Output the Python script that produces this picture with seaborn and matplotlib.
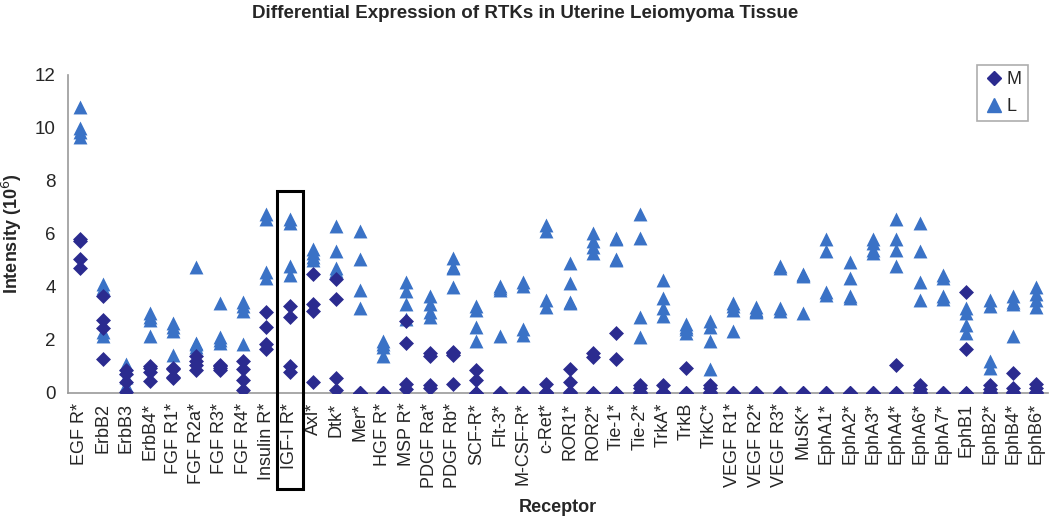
import pandas as pd
import matplotlib
matplotlib.use("Agg")
import matplotlib.pyplot as plt
from matplotlib.patches import Rectangle
from matplotlib.lines import Line2D
from matplotlib.ticker import FixedLocator
import seaborn as sns

# receptor names on the x axis
receptors = ["EGF R*", "ErbB2", "ErbB3", "ErbB4*", "FGF R1*", "FGF R2a*", "FGF R3*",
             "FGF R4*", "Insulin R*", "IGF-I R*", "Axl*", "Dtk*", "Mer*", "HGF R*",
             "MSP R*", "PDGF Ra*", "PDGF Rb*", "SCF-R*", "Flt-3*", "M-CSF-R*", "c-Ret*",
             "ROR1*", "ROR2*", "Tie-1*", "Tie-2*", "TrkA*", "TrkB", "TrkC*", "VEGF R1*",
             "VEGF R2*", "VEGF R3*", "MuSK*", "EphA1*", "EphA2*", "EphA3*", "EphA4*",
             "EphA6*", "EphA7*", "EphB1", "EphB2*", "EphB4*", "EphB6*"]

# M (myometrium) intensities, 4 spots per receptor
m_vals = [
    [5.8, 5.75, 5.05, 4.7], [3.65, 2.75, 2.45, 1.3], [0.85, 0.7, 0.4, 0.05],
    [1.0, 0.95, 0.8, 0.45], [0.95, 0.9, 0.6, 0.55], [1.4, 1.2, 1.05, 0.85],
    [1.05, 1.0, 0.95, 0.85], [1.2, 0.9, 0.5, 0.1], [3.05, 2.5, 1.85, 1.65],
    [3.3, 2.85, 1.0, 0.8], [4.5, 3.35, 3.1, 0.4], [4.3, 3.55, 0.55, 0.1],
    [0, 0, 0, 0], [0, 0, 0, 0], [2.7, 1.9, 0.35, 0.15],
    [1.5, 1.4, 0.3, 0.2], [1.55, 1.5, 1.45, 0.35], [0.85, 0.5, 0, 0],
    [0, 0, 0, 0], [0, 0, 0, 0], [0.35, 0.05, 0, 0],
    [0.9, 0.4, 0.05, 0], [1.5, 1.35, 0, 0], [2.25, 1.3, 0, 0],
    [0.3, 0.2, 0.05, 0], [0.3, 0.05, 0, 0], [0.95, 0, 0, 0],
    [0.3, 0.2, 0.05, 0], [0, 0, 0, 0], [0, 0, 0, 0],
    [0, 0, 0, 0], [0, 0, 0, 0], [0, 0, 0, 0],
    [0, 0, 0, 0], [0, 0, 0, 0], [1.05, 0, 0, 0],
    [0.3, 0.15, 0.05, 0], [0, 0, 0, 0], [3.8, 1.65, 0, 0],
    [0.3, 0.15, 0.05, 0], [0.75, 0.2, 0.05, 0], [0.35, 0.2, 0.05, 0],
]

# L (leiomyoma) intensities
l_vals = [
    [10.8, 10.0, 9.85, 9.65], [4.1, 3.95, 2.3, 2.15], [1.1, 0.95, 0.6, 0.3],
    [3.0, 2.85, 2.75, 2.15], [2.65, 2.5, 2.35, 1.45], [4.75, 1.9, 1.85, 1.75],
    [3.4, 2.1, 2.0, 1.9], [3.45, 3.3, 3.1, 1.85], [6.75, 6.55, 4.55, 4.35],
    [6.55, 6.4, 4.8, 4.45], [5.45, 5.3, 5.15, 5.0], [6.3, 5.35, 4.7, 4.6],
    [6.1, 5.05, 3.9, 3.2], [1.95, 1.85, 1.75, 1.4], [4.2, 3.85, 3.35, 2.8],
    [3.65, 3.35, 3.05, 2.85], [5.1, 4.75, 4.7, 4.0], [3.3, 3.15, 2.5, 1.95],
    [4.05, 3.95, 3.9, 2.15], [4.2, 4.05, 2.4, 2.2], [6.35, 6.1, 3.5, 3.25],
    [4.9, 4.15, 3.45, 3.4], [6.05, 5.75, 5.5, 5.3], [5.85, 5.8, 5.05, 5.0],
    [6.75, 5.85, 2.85, 2.1], [4.25, 3.6, 3.2, 2.9], [2.6, 2.5, 2.4, 2.25],
    [2.7, 2.5, 1.95, 0.9], [3.4, 3.3, 3.15, 2.35], [3.25, 3.15, 3.1, 3.05],
    [4.8, 4.7, 3.2, 3.1], [4.5, 4.45, 4.4, 3.0], [5.8, 5.35, 3.8, 3.7],
    [4.95, 4.35, 3.65, 3.6], [5.8, 5.65, 5.4, 5.3], [6.55, 5.8, 5.4, 4.8],
    [6.4, 5.35, 4.2, 3.5], [4.45, 4.35, 3.65, 3.55], [3.2, 3.0, 2.55, 2.25],
    [3.5, 3.3, 1.2, 0.95], [3.65, 3.45, 3.35, 2.15], [4.0, 3.75, 3.5, 3.25],
]

m_color = "#2b2b8f"
l_color = "#3a72c6"

rows = []
for name, mv, lv in zip(receptors, m_vals, l_vals):
    for v in mv:
        rows.append((name, v, "M"))
    for v in lv:
        rows.append((name, v, "L"))
df = pd.DataFrame(rows, columns=["Receptor", "Intensity", "Tissue"])
df["Receptor"] = pd.Categorical(df["Receptor"], categories=receptors, ordered=True)

sns.set_style("white")
plt.rcParams["font.family"] = ["Liberation Sans", "DejaVu Sans"]

fig = plt.figure(figsize=(10.5, 5.19), dpi=100)
ax = fig.add_axes([0.0648, 0.2428, 0.9332, 0.6127])

sns.scatterplot(data=df[df["Tissue"] == "L"], x="Receptor", y="Intensity",
                marker="^", s=100, color=l_color, linewidth=0, ax=ax, zorder=3)
sns.scatterplot(data=df[df["Tissue"] == "M"], x="Receptor", y="Intensity",
                marker="D", s=58, color=m_color, linewidth=0, ax=ax, zorder=4)

ax.set_xlim(-0.5, len(receptors) - 0.5)
ax.set_ylim(0, 12)
ax.set_yticks(range(0, 13, 2))
ax.set_xticks(range(len(receptors)))
ax.set_xticklabels(receptors, rotation=90, fontsize=13)
ax.tick_params(axis="x", length=0, pad=7)
ax.xaxis.set_minor_locator(FixedLocator([i + 0.5 for i in range(-1, len(receptors))]))
ax.tick_params(axis="x", which="minor", length=5, direction="inout", color="#888888")
ax.tick_params(axis="y", length=5, direction="out", color="#888888", labelsize=13.5, pad=4)

for side in ["top", "right"]:
    ax.spines[side].set_visible(False)
for side in ["left", "bottom"]:
    ax.spines[side].set_color("#999999")
    ax.spines[side].set_linewidth(1.2)

ax.set_xlabel("Receptor", fontsize=13, fontweight="bold", labelpad=8)
ax.set_ylabel("Intensity (10$^6$)", fontsize=13, fontweight="bold")
ax.yaxis.set_label_coords(-0.045, 0.5)
fig.suptitle("Differential Expression of RTKs in Uterine Leiomyoma Tissue",
             fontsize=13.5, fontweight="bold", x=0.5, y=0.99)

# highlight box around IGF-I R*
idx = receptors.index("IGF-I R*")
ax.add_patch(Rectangle((idx - 0.55, -3.62), 1.1, 7.63 + 3.62, fill=False,
                       edgecolor="black", linewidth=2.2, clip_on=False, zorder=5))

handles = [Line2D([], [], marker="D", linestyle="", color=m_color, markersize=7),
           Line2D([], [], marker="^", linestyle="", color=l_color, markersize=10)]
leg = fig.legend(handles, ["M", "L"], loc="upper right", bbox_to_anchor=(0.979, 0.875),
                 borderaxespad=0, fontsize=13, frameon=True, fancybox=False,
                 handletextpad=0.1, handlelength=1.2, borderpad=0.35, labelspacing=0.55)
leg.get_frame().set_edgecolor("#999999")
leg.get_frame().set_linewidth(1.2)

fig.savefig("out.png", dpi=100)
